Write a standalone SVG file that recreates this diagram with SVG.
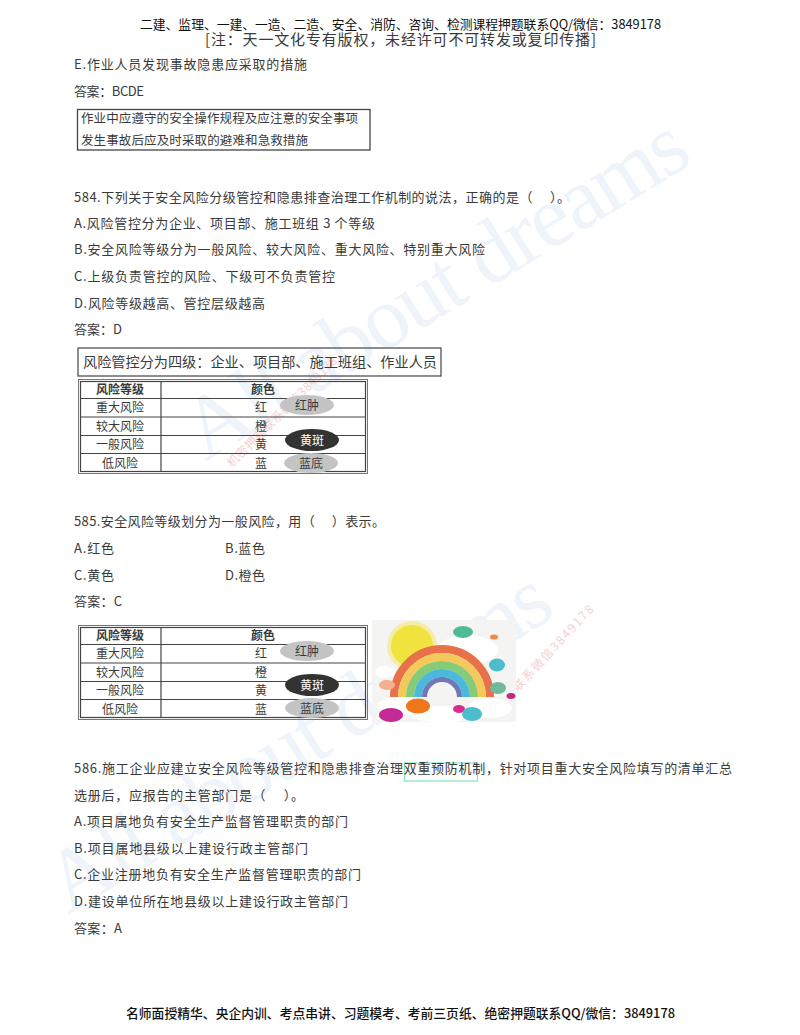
<svg xmlns="http://www.w3.org/2000/svg" width="800" height="1035" viewBox="0 0 800 1035">
<style>
text{font-family:"Noto Sans CJK SC","Liberation Serif",sans-serif;fill:#3a3a3a;white-space:pre}
.b{font-size:13px}
.h{fill:#111;font-size:12.800px}
.w{font-family:"Liberation Serif",serif;font-size:88px;fill:#eff3fa}
.p{font-size:12px;fill:#f5cfd2}
.c{font-size:12px;text-anchor:middle}
.hd{font-weight:700}
.o{fill:#c4c4c4}
.d{fill:#333}
.l{stroke:#444;fill:none;stroke-width:1.200}
</style>
<defs><filter id="soft" x="-5%" y="-5%" width="110%" height="110%"><feGaussianBlur stdDeviation="0.700"/></filter></defs>
<rect width="800" height="1035" fill="#fff"/>
<g id="watermarks">
<text class="w" transform="translate(205 462) rotate(-31.500)" textLength="575">All about dreams</text>
<text class="w" transform="translate(68 915) rotate(-31.500)" textLength="575">All about dreams</text>
<text class="p" transform="translate(232 468) rotate(-45)" textLength="150">机密押题联系微信3849178</text>
<text class="p" transform="translate(518 692) rotate(-47)" textLength="112">联系微信3849178</text>
</g>
<g id="header">
<text class="h" x="140" y="28.500" textLength="521">二建、监理、一建、一造、二造、安全、消防、咨询、检测课程押题联系QQ/微信：3849178</text>
<text x="205" y="45" font-size="15" textLength="391">[注：天一文化专有版权，未经许可不可转发或复印传播]</text>
</g>
<g id="q583">
<text class="b" x="74" y="69" textLength="233">E.作业人员发现事故隐患应采取的措施</text>
<text class="b" x="74" y="96" textLength="70">答案：BCDE</text>
<rect x="77.500" y="109.500" width="292.500" height="40.500" fill="none" stroke="#444" stroke-width="1.300"/>
<text x="81" y="123" font-size="12.500" textLength="277">作业中应遵守的安全操作规程及应注意的安全事项</text>
<text x="81" y="145" font-size="12.500" textLength="227">发生事故后应及时采取的避难和急救措施</text>
</g>
<g id="q584">
<text class="b" x="74" y="202" textLength="496">584.下列关于安全风险分级管控和隐患排查治理工作机制的说法，正确的是（　 ）。</text>
<text class="b" x="74" y="228" textLength="301">A.风险管控分为企业、项目部、施工班组 3 个等级</text>
<text class="b" x="74" y="254" textLength="411">B.安全风险等级分为一般风险、较大风险、重大风险、特别重大风险</text>
<text class="b" x="74" y="281" textLength="261">C.上级负责管控的风险、下级可不负责管控</text>
<text class="b" x="74" y="308" textLength="191">D.风险等级越高、管控层级越高</text>
<text class="b" x="74" y="334" textLength="48">答案：D</text>
<rect x="78" y="348" width="363" height="28" fill="none" stroke="#444" stroke-width="1.200"/>
<text x="83" y="367" font-size="14.200" textLength="354">风险管控分为四级：企业、项目部、施工班组、作业人员</text>
</g>
<g id="table1">
<rect x="78.500" y="379.500" width="289" height="94" fill="none" stroke="#777"/>
<rect x="80.500" y="381.500" width="285" height="90" class="l"/>
<path class="l" d="M80 398.500H366M80 417H366M80 435.500H366M80 453.500H366M161 381V472"/>
<text class="c hd" x="120" y="394">风险等级</text><text class="c hd" x="263" y="394">颜色</text>
<text class="c" x="120" y="412">重大风险</text><text class="c" x="261" y="412">红</text>
<text class="c" x="120" y="431">较大风险</text><text class="c" x="261" y="431">橙</text>
<text class="c" x="120" y="449">一般风险</text><text class="c" x="261" y="449">黄</text>
<text class="c" x="120" y="468">低风险</text><text class="c" x="261" y="468">蓝</text>
<ellipse class="o" cx="307" cy="405" rx="27" ry="10"/><text class="c" x="307" y="410">红肿</text>
<ellipse class="d" cx="312" cy="440" rx="27" ry="11"/><text class="c" x="312" y="445" style="fill:#fff">黄斑</text>
<ellipse class="o" cx="311" cy="463" rx="27" ry="10"/><text class="c" x="311" y="468">蓝底</text>
</g>
<g id="q585">
<text class="b" x="74" y="526" textLength="311">585.安全风险等级划分为一般风险，用（　 ）表示。</text>
<text class="b" x="74" y="553" textLength="40">A.红色</text><text class="b" x="225" y="553" textLength="40">B.蓝色</text>
<text class="b" x="74" y="580" textLength="40">C.黄色</text><text class="b" x="225" y="580" textLength="40">D.橙色</text>
<text class="b" x="74" y="606" textLength="48">答案：C</text>
</g>
<g id="table2">
<rect x="78.500" y="625.500" width="289" height="94" fill="none" stroke="#777"/>
<rect x="80.500" y="627.500" width="285" height="90" class="l"/>
<path class="l" d="M80 644.500H366M80 663H366M80 681.500H366M80 699.500H366M161 627V718"/>
<text class="c hd" x="120" y="640">风险等级</text><text class="c hd" x="263" y="640">颜色</text>
<text class="c" x="120" y="658">重大风险</text><text class="c" x="261" y="658">红</text>
<text class="c" x="120" y="677">较大风险</text><text class="c" x="261" y="677">橙</text>
<text class="c" x="120" y="695">一般风险</text><text class="c" x="261" y="695">黄</text>
<text class="c" x="120" y="714">低风险</text><text class="c" x="261" y="714">蓝</text>
<ellipse class="o" cx="307" cy="651" rx="27" ry="10"/><text class="c" x="307" y="656">红肿</text>
<ellipse class="d" cx="312" cy="685" rx="27" ry="11"/><text class="c" x="312" y="690" style="fill:#fff">黄斑</text>
<ellipse class="o" cx="312" cy="708" rx="27" ry="10"/><text class="c" x="312" y="713">蓝底</text>
</g>
<g id="rainbow">
<rect x="372" y="620" width="144" height="102" fill="#f4f4f2"/>
<g filter="url(#soft)">
<circle cx="412" cy="646" r="25" fill="#f5eca8"/><circle cx="412" cy="646" r="21" fill="#f0e33c"/>
<ellipse cx="468" cy="650" rx="30" ry="15" fill="#fff"/>
<g fill="none" stroke-width="8">
<path d="M394 697A48 48 0 0 1 490 697" stroke="#e8714a"/>
<path d="M402 697A40 40 0 0 1 482 697" stroke="#f3c95c"/>
<path d="M410 697A32 32 0 0 1 474 697" stroke="#85cb78"/>
<path d="M418 697A24 24 0 0 1 466 697" stroke="#4cb8dc"/>
<path d="M424.500 697A17.500 17.500 0 0 1 459.500 697" stroke="#6f78b8" stroke-width="5"/>
</g>
<g fill="#fff">
<ellipse cx="397" cy="706" rx="20" ry="9"/><ellipse cx="442" cy="714" rx="34" ry="8"/>
<ellipse cx="490" cy="708" rx="22" ry="10"/>
<ellipse cx="385" cy="672" rx="10" ry="6"/>
</g>
<ellipse cx="463" cy="632" rx="10" ry="6" fill="#4fbb92"/>
<ellipse cx="494" cy="637" rx="4" ry="2.500" fill="#ef8a3c"/>
<ellipse cx="497" cy="665" rx="8" ry="6.500" fill="#4dbccb"/>
<ellipse cx="387" cy="685" rx="8" ry="5" fill="#f2b08e"/>
<ellipse cx="418" cy="706" rx="12" ry="7.500" fill="#f0761a"/>
<ellipse cx="391" cy="715" rx="12" ry="7" fill="#c42c96"/>
<ellipse cx="459" cy="709" rx="6" ry="4" fill="#d92a8e"/>
<ellipse cx="472" cy="714" rx="10" ry="7" fill="#4dbccb"/>
<ellipse cx="498" cy="688" rx="8" ry="6" fill="#6fb99a"/>
<ellipse cx="511" cy="696" rx="4.500" ry="3" fill="#c42c76"/>
</g>
</g>
<g id="q586">
<rect x="404.500" y="763" width="73" height="18" fill="none" stroke="#7fe3c4" stroke-width="1.200"/>
<text class="b" x="74" y="773" textLength="658">586.施工企业应建立安全风险等级管控和隐患排查治理双重预防机制，针对项目重大安全风险填写的清单汇总</text>
<text class="b" x="74" y="800" textLength="230">选册后，应报告的主管部门是（　 ）。</text>
<text class="b" x="74" y="826" textLength="274">A.项目属地负有安全生产监督管理职责的部门</text>
<text class="b" x="74" y="853" textLength="234">B.项目属地县级以上建设行政主管部门</text>
<text class="b" x="74" y="879" textLength="287">C.企业注册地负有安全生产监督管理职责的部门</text>
<text class="b" x="74" y="906" textLength="274">D.建设单位所在地县级以上建设行政主管部门</text>
<text class="b" x="74" y="933" textLength="48">答案：A</text>
</g>
<g id="footer">
<text class="h" x="126" y="1018" textLength="549" font-weight="500">名师面授精华、央企内训、考点串讲、习题模考、考前三页纸、绝密押题联系QQ/微信：3849178</text>
</g>
</svg>
